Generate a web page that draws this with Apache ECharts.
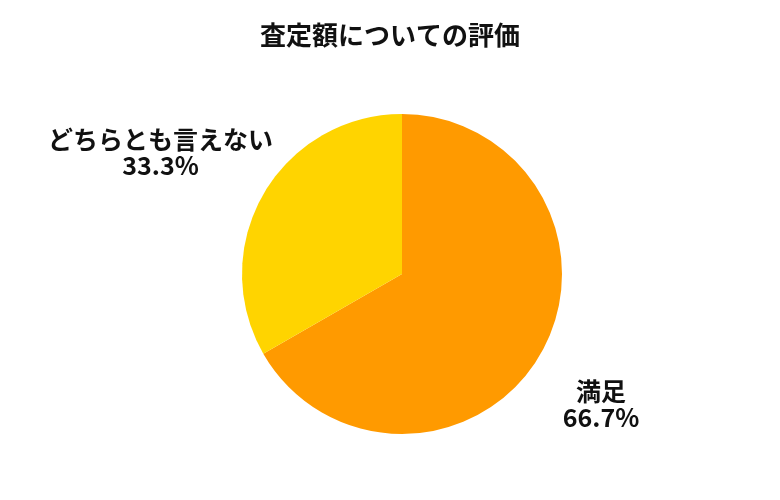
<!DOCTYPE html>
<html>
<head>
<meta charset="utf-8">
<script src="https://cdn.jsdelivr.net/npm/echarts@6/dist/echarts.min.js"></script>
<style>
html,body{margin:0;padding:0;background:#fff;}
#c{width:780px;height:500px;}
</style>
</head>
<body>
<div id="c"></div>
<script>
const titleText = '査定額についての評価';
const categories = ['満足', 'どちらとも言えない'];
const values = [66.7, 33.3];
const colors = ['#FF9A00', '#FFD400'];

const FONT = '"Noto Sans CJK JP", "Noto Sans", sans-serif';
const lineLens = [[100, 0], [82, 27]];
const shiftX = [-31, 0];

const chart = echarts.init(document.getElementById('c'), null, {renderer: 'canvas'});
chart.setOption({
  backgroundColor: '#fff',
  animation: false,
  title: {
    text: titleText,
    left: 'center',
    top: 17,
    textStyle: {fontFamily: FONT, fontSize: 26, fontWeight: 'bold', color: '#111'}
  },
  series: [{
    type: 'pie',
    center: [402, 274],
    radius: 160,
    startAngle: 90,
    clockwise: true,
    avoidLabelOverlap: false,
    label: {
      show: true,
      position: 'outside',
      formatter: p => p.name + '\n' + p.value.toFixed(1) + '%',
      fontFamily: FONT,
      fontSize: 25,
      fontWeight: 'bold',
      lineHeight: 26,
      color: '#111'
    },
    labelLine: {show: false},
    labelLayout: p => ({align: 'center', dx: shiftX[p.dataIndex]}),
    data: categories.map((n, i) => ({
      name: n,
      value: values[i],
      itemStyle: {color: colors[i]},
      labelLine: {show: false, length: lineLens[i][0], length2: lineLens[i][1]}
    }))
  }]
});
</script>
</body>
</html>
